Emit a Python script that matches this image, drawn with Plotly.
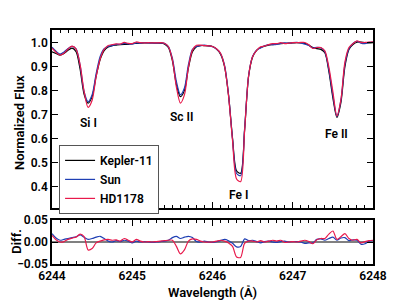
import plotly.graph_objects as go

wavelength = [round(6244 + 0.05 * i, 2) for i in range(81)]

kepler11 = [0.962, 0.955, 0.948, 0.955, 0.968, 0.977, 0.962, 0.89, 0.785, 0.748,
            0.775, 0.86, 0.93, 0.967, 0.982, 0.988, 0.99, 0.992, 0.993, 0.993,
            0.996, 0.997, 0.998, 0.999, 0.999, 0.999, 0.998, 0.998, 0.995, 0.98,
            0.925, 0.825, 0.775, 0.80, 0.895, 0.962, 0.983, 0.988, 0.988, 0.987,
            0.984, 0.973, 0.952, 0.90, 0.78, 0.60, 0.465, 0.455, 0.635, 0.86,
            0.94, 0.968, 0.98, 0.986, 0.99, 0.992, 0.994, 0.996, 0.997, 0.998,
            0.999, 1.0, 0.999, 0.997, 0.99, 0.98, 0.975, 0.972, 0.958, 0.88,
            0.77, 0.688, 0.75, 0.90, 0.972, 0.992, 1.002, 1.003, 1.0, 0.999, 1.0]

sun = [0.981, 0.964, 0.952, 0.961, 0.976, 0.985, 0.974, 0.906, 0.796, 0.754,
       0.783, 0.871, 0.943, 0.975, 0.984, 0.988, 0.993, 0.993, 0.997, 0.995,
       0.994, 0.999, 0.998, 1.000, 0.999, 0.998, 0.998, 0.999, 0.997, 0.984,
       0.935, 0.838, 0.783, 0.811, 0.908, 0.972, 0.984, 0.988, 0.990, 0.987,
       0.983, 0.974, 0.955, 0.906, 0.783, 0.597, 0.454, 0.445, 0.642, 0.863,
       0.944, 0.969, 0.978, 0.987, 0.992, 0.992, 0.993, 0.997, 0.999, 0.998,
       1.000, 1.001, 0.999, 0.994, 0.988, 0.978, 0.981, 0.979, 0.962, 0.888,
       0.781, 0.692, 0.759, 0.910, 0.975, 0.997, 1.006, 0.998, 0.996, 1.001, 1.003]

hd1178 = [0.977, 0.960, 0.948, 0.956, 0.974, 0.986, 0.973, 0.908, 0.797, 0.730,
          0.760, 0.858, 0.932, 0.972, 0.988, 0.992, 0.995, 0.994, 1.001, 0.997,
          0.996, 1.003, 1.000, 0.999, 1.000, 0.999, 0.999, 1.000, 0.998, 0.984,
          0.929, 0.815, 0.748, 0.782, 0.897, 0.969, 0.989, 0.990, 0.988, 0.987,
          0.984, 0.975, 0.956, 0.902, 0.778, 0.590, 0.431, 0.420, 0.632, 0.862,
          0.942, 0.968, 0.983, 0.986, 0.992, 0.996, 0.996, 1.000, 0.996, 0.998,
          1.000, 1.000, 1.001, 1.001, 0.991, 0.976, 0.980, 0.980, 0.966, 0.898,
          0.795, 0.694, 0.762, 0.919, 0.980, 0.996, 1.008, 1.001, 1.001, 1.002, 1.004]

diff_sun = [0.019, 0.009, 0.004, 0.006, 0.008, 0.010, 0.012, 0.016, 0.011, 0.006,
            0.008, 0.011, 0.013, 0.008, 0.002, 0.000, 0.003, 0.001, 0.004, 0.002,
            -0.002, 0.002, 0.000, 0.001, 0.000, -0.001, 0.000, 0.001, 0.002, 0.004,
            0.010, 0.013, 0.008, 0.011, 0.013, 0.010, 0.001, 0.000, 0.002, 0.000,
            -0.001, 0.001, 0.003, 0.006, 0.003, -0.003, -0.011, -0.010, 0.007, 0.003,
            0.004, 0.001, -0.002, 0.001, 0.002, 0.000, -0.001, 0.001, 0.002, 0.000,
            0.001, 0.001, 0.000, -0.003, -0.002, -0.002, 0.006, 0.007, 0.004, 0.008,
            0.011, 0.004, 0.009, 0.010, 0.003, 0.005, 0.004, -0.005, -0.004, 0.002, 0.003]

diff_hd1178 = [0.015, 0.005, 0.000, 0.001, 0.006, 0.009, 0.011, 0.018, 0.012, -0.018,
               -0.015, -0.002, 0.002, 0.005, 0.006, 0.004, 0.005, 0.002, 0.008, 0.004,
               0.000, 0.006, 0.002, 0.000, 0.001, 0.000, 0.001, 0.002, 0.003, 0.004,
               0.004, -0.010, -0.027, -0.018, 0.002, 0.007, 0.006, 0.002, 0.000, 0.000,
               0.000, 0.002, 0.004, 0.002, -0.002, -0.010, -0.034, -0.035, -0.003, 0.002,
               0.002, 0.000, 0.003, 0.000, 0.002, 0.004, 0.002, 0.004, -0.001, 0.000,
               0.001, 0.000, 0.002, 0.004, 0.001, -0.004, 0.005, 0.008, 0.008, 0.018,
               0.025, 0.006, 0.012, 0.019, 0.008, 0.004, 0.006, -0.002, 0.001, 0.003, 0.004]

line_names = ["Si I", "Sc II", "Fe I", "Fe II"]
line_wl = [6244.45, 6245.61, 6246.32, 6247.55]
line_label_y = [0.665, 0.69, 0.365, 0.62]

x_ticks = [6244, 6245, 6246, 6247, 6248]
flux_ticks = [0.4, 0.5, 0.6, 0.7, 0.8, 0.9, 1.0]
diff_ticks = [-0.05, 0.0, 0.05]

FONT = "Roboto"
WEIGHT = 600
BLACK = "#000000"
BLUE = "#1f3fb4"
RED = "#e8194b"

fig = go.Figure()
for name, ys, col in [("Kepler-11", kepler11, BLACK), ("Sun", sun, BLUE), ("HD1178", hd1178, RED)]:
    fig.add_trace(go.Scatter(x=wavelength, y=ys, mode="lines", name=name,
                             line=dict(color=col, width=1.2, shape="spline", smoothing=0.8),
                             xaxis="x", yaxis="y"))
for ys, col in [(diff_sun, BLUE), (diff_hd1178, RED)]:
    fig.add_trace(go.Scatter(x=wavelength, y=ys, mode="lines", showlegend=False,
                             line=dict(color=col, width=1.2, shape="spline", smoothing=0.8),
                             xaxis="x2", yaxis="y2"))

for n, xw, yv in zip(line_names, line_wl, line_label_y):
    fig.add_annotation(x=xw, y=yv, xref="x", yref="y", text=n, showarrow=False,
                       font=dict(family=FONT, size=12, color="black", weight=WEIGHT))

axis_common = dict(showline=True, linecolor="black", linewidth=1.5, mirror="ticks",
                   ticks="inside", tickcolor="black", showgrid=False, automargin=False,
                   tickfont=dict(family=FONT, size=12, color="black", weight=WEIGHT))

# The page body has an 8px margin, so the figure is sized to fill the window exactly.
fig.update_layout(
    width=407, height=294,
    margin=dict(l=44, r=42, t=22, b=38, autoexpand=False),
    paper_bgcolor="white", plot_bgcolor="white",
    font=dict(family=FONT, size=12, color="black", weight=WEIGHT),
    showlegend=True,
    legend=dict(x=0.022, y=0.509, xanchor="left", yanchor="top",
                bordercolor="#555555", borderwidth=1, bgcolor="white",
                font=dict(family=FONT, size=12, color="black", weight=WEIGHT),
                itemwidth=30, tracegroupgap=0),
    xaxis=dict(domain=[0, 1], anchor="y", range=[6244, 6248], tickvals=x_ticks,
               showticklabels=False, ticklen=6, tickwidth=1, zeroline=False,
               minor=dict(dtick=0.1, ticklen=3, ticks="inside", tickcolor="black"),
               **axis_common),
    yaxis=dict(domain=[0.2393, 1], anchor="x", range=[0.31, 1.053], tickvals=flux_ticks,
               tickformat=".1f", ticklen=6, zeroline=False, **axis_common),
    xaxis2=dict(domain=[0, 1], anchor="y2", range=[6244, 6248], tickvals=x_ticks,
                tickformat="d", ticklen=6, tickwidth=1, zeroline=False,
                minor=dict(dtick=0.1, ticklen=3, ticks="inside", tickcolor="black"),
                **axis_common),
    yaxis2=dict(domain=[0, 0.188], anchor="x2", range=[-0.05, 0.05], tickvals=diff_ticks,
                tickformat=".2f", ticklen=6, zeroline=True, zerolinecolor="#808080",
                zerolinewidth=1.5, **axis_common),
)

fig.add_annotation(x=-0.0997, y=0.607, xref="paper", yref="paper", text="Normalized Flux",
                   textangle=-90, showarrow=False, xanchor="center", yanchor="middle",
                   font=dict(family=FONT, size=13, weight=WEIGHT))
fig.add_annotation(x=-0.113, y=0.098, xref="paper", yref="paper", text="Diff.",
                   textangle=-90, showarrow=False, xanchor="center", yanchor="middle",
                   font=dict(family=FONT, size=13, weight=WEIGHT))
fig.add_annotation(x=0.5, y=-0.12, xref="paper", yref="paper", text="Wavelength (Å)",
                   xanchor="center", yanchor="middle", showarrow=False,
                   font=dict(family=FONT, size=13, weight=WEIGHT))

fig.write_html("out.html")
